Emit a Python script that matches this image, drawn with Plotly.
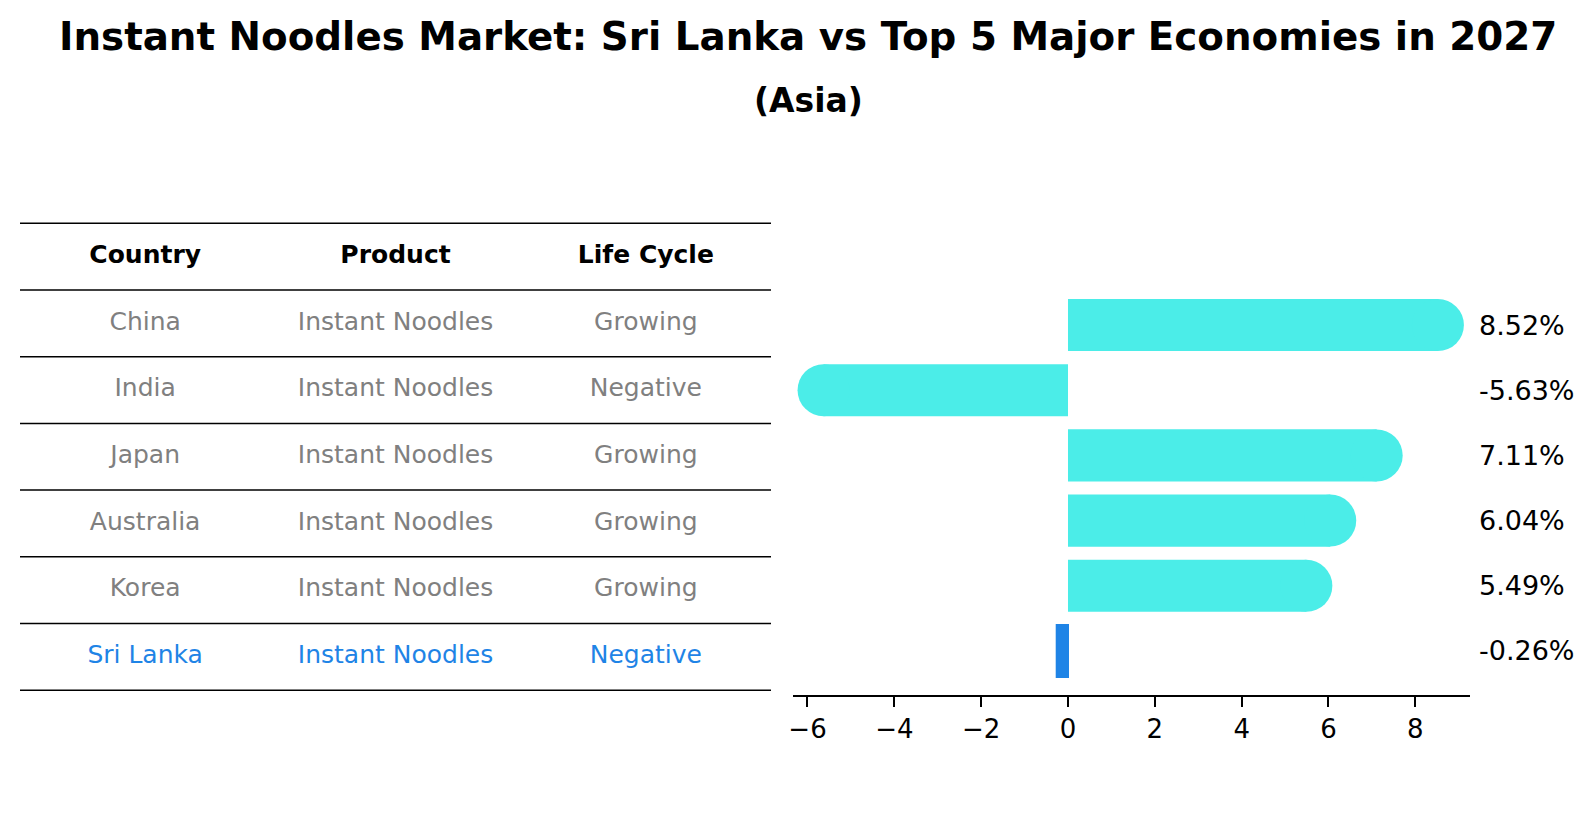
import plotly.graph_objects as go

# ---------------- data ----------------
countries = ["China", "India", "Japan", "Australia", "Korea", "Sri Lanka"]
products = ["Instant Noodles"] * 6
life_cycle = ["Growing", "Negative", "Growing", "Growing", "Growing", "Negative"]
growth = [8.52, -5.63, 7.11, 6.04, 5.49, -0.26]
headers = ["Country", "Product", "Life Cycle"]
highlight = "Sri Lanka"
tick_values = [-6, -4, -2, 0, 2, 4, 6, 8]

title_text = "Instant Noodles Market: Sri Lanka vs Top 5 Major Economies in 2027"
subtitle_text = "(Asia)"

# ---------------- styles ----------------
FONT = "DejaVu Sans"
CYAN = "#4BEDE8"
BLUE = "#1F84E6"
GREY = "#808080"
PAGE_OFF = 8            # default body margin of the html page
W, H = 1596 - 2 * PAGE_OFF, 823 - 2 * PAGE_OFF


def px(page_x):
    return (page_x - PAGE_OFF) / W


def py(page_y):
    return 1 - (page_y - PAGE_OFF) / H


bar_colors = [BLUE if c == highlight else CYAN for c in countries]
bar_line_w = [2 if c == highlight else 0 for c in countries]
text_colors = [BLUE if c == highlight else GREY for c in countries]

fig = go.Figure()

# ---------------- bar chart ----------------
fig.add_trace(go.Bar(
    x=growth, y=countries, orientation="h",
    marker=dict(color=bar_colors, line=dict(width=bar_line_w, color=bar_colors)),
    width=0.8, xaxis="x", yaxis="y", hoverinfo="skip", showlegend=False,
))
# rounded caps at the bar ends (not for the highlighted country)
cap_x = [v for c, v in zip(countries, growth) if c != highlight]
cap_y = [c for c in countries if c != highlight]
fig.add_trace(go.Scatter(
    x=cap_x, y=cap_y, mode="markers",
    marker=dict(symbol="circle", size=52, color=CYAN, line=dict(width=0)),
    xaxis="x", yaxis="y", hoverinfo="skip", showlegend=False, cliponaxis=False,
))

# value labels
for c, v in zip(countries, growth):
    fig.add_annotation(
        x=px(1477), xref="paper", y=c, yref="y",
        text=f"{v:.2f}%", showarrow=False, xanchor="left", yanchor="middle",
        font=dict(family=FONT, size=27, color="black"),
    )

# ---------------- table ----------------
n_rows = len(countries) + 1
row_y = [n_rows - 0.5 - i for i in range(n_rows)]  # header first
col_x = [i + 0.5 for i in range(len(headers))]

# horizontal rules
lx, ly = [], []
for k in range(n_rows + 1):
    lx += [0, len(headers), None]
    ly += [k, k, None]
fig.add_trace(go.Scatter(
    x=lx, y=ly, mode="lines", line=dict(color="black", width=1.5),
    xaxis="x2", yaxis="y2", hoverinfo="skip", showlegend=False,
))
# header
fig.add_trace(go.Scatter(
    x=col_x, y=[row_y[0]] * len(headers), mode="text",
    text=[f"<b>{h}</b>" for h in headers], textposition="middle center",
    textfont=dict(family=FONT, size=25, color="black"),
    xaxis="x2", yaxis="y2", hoverinfo="skip", showlegend=False,
))
# body columns
for j, col in enumerate([countries, products, life_cycle]):
    fig.add_trace(go.Scatter(
        x=[col_x[j]] * len(col), y=row_y[1:], mode="text",
        text=col, textposition="middle center",
        textfont=dict(family=FONT, size=25, color=text_colors),
        xaxis="x2", yaxis="y2", hoverinfo="skip", showlegend=False,
    ))

# ---------------- titles ----------------
fig.add_annotation(
    x=px(806), y=py(36), xref="paper", yref="paper",
    text=f"<b>{title_text}</b>", showarrow=False, xanchor="center", yanchor="middle",
    font=dict(family=FONT, size=38.8, color="black"),
)
fig.add_annotation(
    x=px(807), y=py(100), xref="paper", yref="paper",
    text=f"<b>{subtitle_text}</b>", showarrow=False, xanchor="center", yanchor="middle",
    font=dict(family=FONT, size=33, color="black"),
)

# ---------------- layout ----------------
row_px = (690.2 - 223.3) / n_rows
pad = 0.05
fig.update_layout(
    width=W, height=H, autosize=False,
    margin=dict(l=0, r=0, t=0, b=0),
    paper_bgcolor="white", plot_bgcolor="white",
    font=dict(family=FONT, color="black"),
    xaxis=dict(
        domain=[px(790.5), px(1470)], range=[-6.345, 9.266],
        showline=True, linecolor="black", linewidth=2,
        ticks="outside", ticklen=10, tickwidth=2, tickcolor="black",
        tickvals=tick_values, showgrid=False, zeroline=False,
        tickfont=dict(family=FONT, size=26, color="black"),
        fixedrange=True,
    ),
    yaxis=dict(
        domain=[py(695), py(281)], type="category",
        categoryorder="array", categoryarray=list(reversed(countries)),
        range=[-0.675, len(countries) - 1 + 0.675], visible=False, fixedrange=True,
    ),
    xaxis2=dict(
        domain=[px(16), px(769)], range=[0, len(headers)], visible=False,
        anchor="y2", fixedrange=True,
    ),
    yaxis2=dict(
        domain=[py(690.2 + pad * row_px), py(223.3 - pad * row_px)],
        range=[-pad, n_rows + pad], visible=False,
        anchor="x2", fixedrange=True,
    ),
)

fig.write_html("out.html")
